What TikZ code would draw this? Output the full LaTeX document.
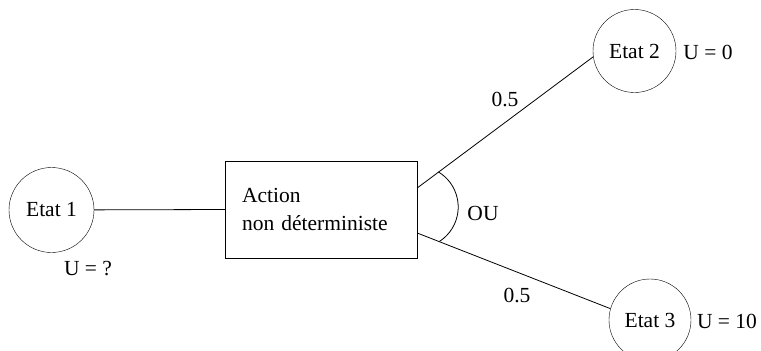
\documentclass[tikz,border=0pt]{standalone}
\usepackage{fontspec}
\setmainfont{Liberation Serif}
\begin{document}
\begin{tikzpicture}[x=1pt,y=-1pt,
  every node/.style={font=\fontsize{21.5}{27.5}\selectfont},
  etat/.style={draw,circle,inner sep=0pt},
  lbl/.style={inner sep=0pt},
  link/.style={draw,line width=0.8pt}]
\useasboundingbox (0,0) rectangle (761,351);
% states
\node[etat,minimum size=85] (e1) at (51.5,210) {Etat 1};
\node[etat,minimum size=83] (e2) at (634.5,51) {Etat 2};
\node[etat,minimum size=82] (e3) at (650,320) {Etat 3};
% action box
\node[draw,rectangle,minimum width=192,minimum height=97,text width=158,
      inner xsep=17,align=left] (act) at (321,209.5) {Action\\non déterministe};
% connectors
\draw[link] (e1) -- (act.west);
\coordinate (up) at ([yshift=21.5pt]act.east);
\coordinate (dn) at ([yshift=-23.5pt]act.east);
\draw[link] (up) -- (e2.188);
\draw[link] (dn) -- (e3.164);
% OU arc between the two branches
\coordinate (arcc) at ([yshift=2.5pt]act.east);
\draw[link] (arcc) ++(-59:41) arc[start angle=-59,end angle=57,radius=41];
% labels
\node[lbl] (ou) at (483,213) {OU};
\node[lbl] (p1) at (505,100) {0.5};
\node[lbl] (p2) at (517,295) {0.5};
\node[lbl] (u1) at (88,269) {U = ?};
\node[lbl] (u2) at (708,52) {U = 0};
\node[lbl] (u3) at (727,321) {U = 10};
\end{tikzpicture}
\end{document}
